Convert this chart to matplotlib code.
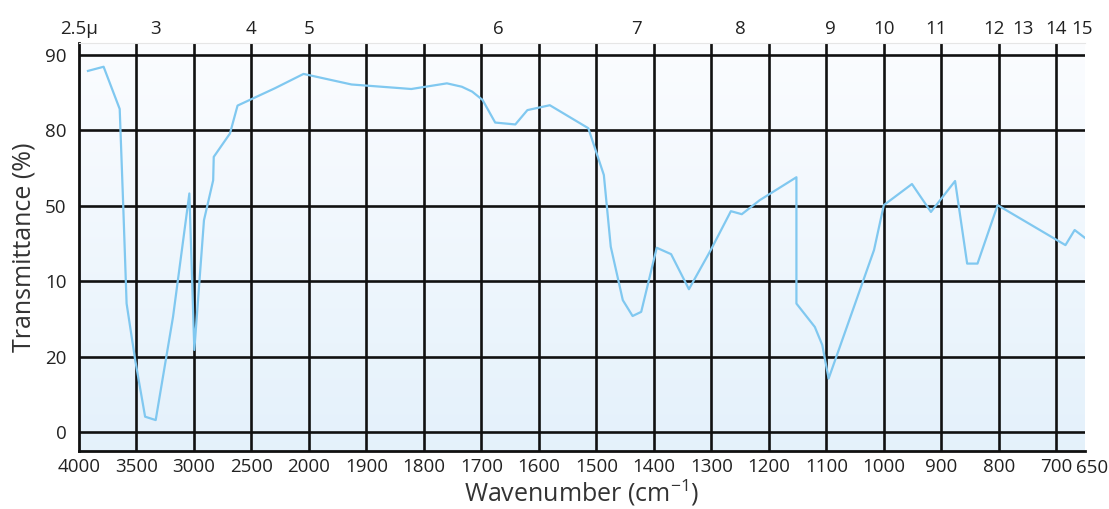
import numpy as np
import matplotlib
matplotlib.use('Agg')
import matplotlib.pyplot as plt

plt.rcParams['font.family'] = ['Open Sans', 'DejaVu Sans']
plt.rcParams['mathtext.fontset'] = 'custom'
plt.rcParams['mathtext.rm'] = 'Open Sans'

# bottom axis: wavenumber ticks (non-linear scale, one grid cell each)
wn_ticks = [4000, 3500, 3000, 2500, 2000, 1900, 1800, 1700, 1600, 1500,
            1400, 1300, 1200, 1100, 1000, 900, 800, 700, 650]
wn_pos = list(range(18)) + [17.5]

# left axis labels, bottom to top (as printed on the chart)
y_labels = ['0', '20', '10', '50', '80', '90']

# top axis: wavelength labels and where they sit (cm-1)
um_labels = ['2.5\u00b5', '3', '4', '5', '6', '7', '8', '9', '10', '11', '12', '13', '14', '15']
um_wn = [4000, 3333, 2500, 2000, 1670, 1430, 1250, 1093, 1000, 909, 808, 758, 700, 655]

# spectrum (wavenumber, transmittance on grid scale 0-100)
wavenumber = [3922, 3786, 3646, 3615, 3586, 3511, 3425, 3333, 3182, 3040,
              2997, 2913, 2833, 2828, 2687, 2621, 2296, 2047, 1926, 1839,
              1822, 1760, 1734, 1716, 1698, 1676, 1641, 1620, 1581, 1514,
              1487, 1475, 1454, 1437, 1422, 1395, 1370, 1339, 1301, 1266,
              1247, 1216, 1152, 1152, 1120, 1107, 1096, 1017, 1000,
              951, 918, 876, 855, 837, 802, 684, 668, 650]
transmittance = [95.8, 96.9, 85.7, 59.8, 34.1, 19.1, 4.1, 3.2, 30.6, 63.3,
                 21.8, 56.2, 66.8, 73.0, 79.2, 86.6, 91.2, 95.0, 92.2, 91.2,
                 91.0, 92.5, 91.6, 90.3, 88.1, 82.1, 81.6, 85.4, 86.7, 80.6,
                 68.2, 49.2, 35.0, 30.8, 31.9, 48.9, 47.2, 37.9, 48.3, 58.6,
                 57.8, 61.5, 67.6, 34.1, 27.9, 23.1, 14.2, 48.3, 60.2,
                 65.8, 58.4, 66.6, 44.7, 44.7, 60.2, 49.6, 53.6, 51.5]


def to_pos(w):
    # wavenumber -> position on the stretched axis
    return np.interp(-np.asarray(w, dtype=float), -np.array(wn_ticks), wn_pos)


fig = plt.figure(figsize=(11.09, 5.09), dpi=100)
ax = fig.add_axes([79/1109, 58/509, 1006/1109, 408/509])

ymin, ymax = -5.0, 103.2
xmin, xmax = 0, 17.5

# background gradient
grad = np.linspace(0, 1, 256).reshape(-1, 1)
top_c = np.array([0.985, 0.99, 1.0])
bot_c = np.array([0.894, 0.945, 0.984])
img = top_c + (bot_c - top_c) * grad[:, :, None] * np.ones((1, 2, 1))
ax.imshow(img, extent=[xmin, xmax, ymin, ymax], aspect='auto', origin='upper', zorder=0)

# grid
for p in wn_pos[1:-1]:
    ax.axvline(p, color='#111111', lw=1.9, zorder=1)
y_grid = np.arange(0, 101, 20)
for g in y_grid:
    ax.axhline(g, color='#111111', lw=1.9, zorder=1)

ax.plot(to_pos(wavenumber), transmittance, color='#80c8f0', lw=1.6, zorder=3)

ax.set_xlim(xmin, xmax)
ax.set_ylim(ymin, ymax)
ax.set_xticks(wn_pos)
# last label (650) is drawn separately so it can sit a bit to the right
ax.set_xticklabels([str(w) for w in wn_ticks[:-1]] + [''], fontsize=13.5, color='#222222')
ax.set_yticks(y_grid)
ax.set_yticklabels(y_labels, fontsize=13.5, color='#222222')
ax.tick_params(axis='both', length=0)
ax.tick_params(axis='x', pad=5)
ax.tick_params(axis='y', pad=9)

ax.annotate(str(wn_ticks[-1]), xy=(wn_pos[-1], 0), xycoords=ax.get_xaxis_transform(),
            xytext=(5, -5.5), textcoords='offset points', ha='center', va='top',
            fontsize=13.5, color='#222222', annotation_clip=False)

for s in ['left', 'bottom']:
    ax.spines[s].set_linewidth(2.0)
    ax.spines[s].set_color('#111111')
ax.spines['right'].set_visible(False)
ax.spines['top'].set_color('#e6e6e6')
ax.spines['top'].set_linewidth(0.8)

for lab, w in zip(um_labels, um_wn):
    ax.text(to_pos(w), 1.035, lab, transform=ax.get_xaxis_transform(),
            ha='center', va='center', fontsize=13.5, color='#222222')

fig.text(582/1109, 7/509, 'Wavenumber (cm$^{\\mathregular{-1}}$)', fontsize=18,
         color='#333333', ha='center', va='baseline')
fig.text(24/1109, 1 - 247/509, 'Transmittance (%)', fontsize=18, rotation=90,
         color='#333333', ha='center', va='center')

fig.savefig('out.png', dpi=100)
